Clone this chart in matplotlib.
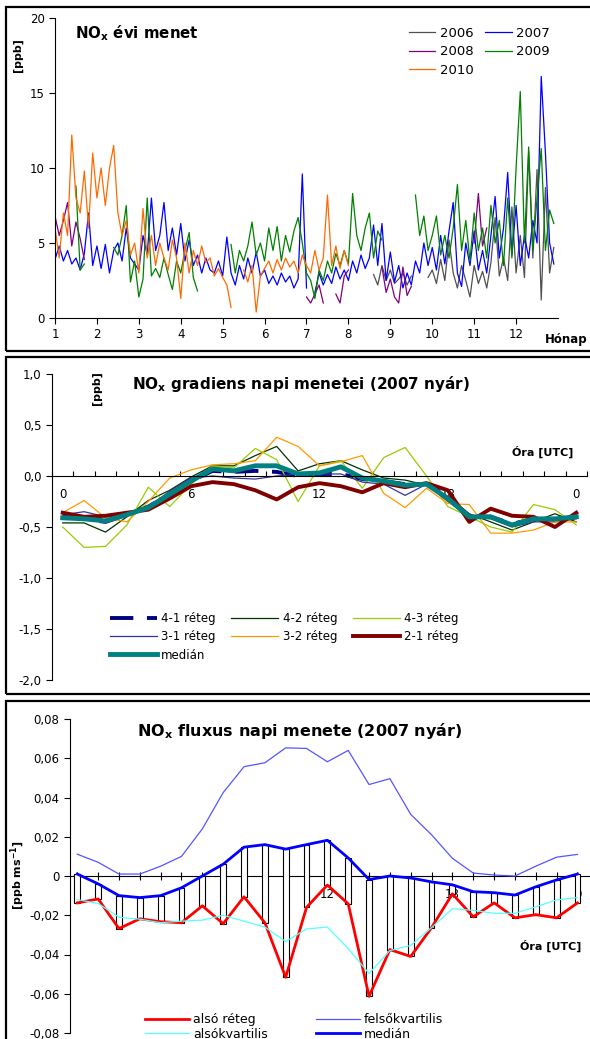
import numpy as np
import matplotlib.pyplot as plt
from matplotlib.patches import Rectangle

plt.rcParams['font.family'] = ['DejaVu Sans']
plt.rcParams['mathtext.default'] = 'regular'

nan = np.nan
W, H = 590, 1039

# ---- panel 1: yearly NOx course, one value every 0.1 month (1.0 .. 12.9)
months = np.round(np.arange(1.0, 13.0, 0.1), 1)

nox_2006 = ([nan] * 76
            + [2.9, 2.2, 3.5, 2.5, 3.2, 2.3, 2.6, 3.0, 2.2, 2.8]
            + [nan] * 3
            + [2.7, 3.2, 2.3, 3.9, 2.5, 5.2, 3.0, 2.0, 3.5, 2.5,
               1.4, 3.5, 2.3, 3.1, 2.0, 3.7, 6.7, 2.8, 4.0, 2.5,
               7.4, 3.0, 5.5, 2.7, 11.1, 4.0, 9.9, 1.2, 8.7, 3.0, 4.7])

nox_2007 = [3.9, 4.8, 3.8, 4.5, 3.6, 4.0, 3.2, 4.3, 7.0, 3.5,
            4.8, 3.3, 4.9, 3.0, 4.5, 5.0, 3.8, 6.0, 4.0, 3.6,
            3.2, 5.5, 4.2, 8.0, 4.5, 5.5, 7.7, 4.5, 6.0, 4.2,
            6.3, 3.8, 5.2, 3.5, 4.2, 3.0, 4.0, 3.2, 3.0, 3.8,
            2.8, 5.4, 3.0, 2.2, 3.5, 2.6, 4.0, 3.0, 4.4, 2.8,
            3.2, 2.3, 2.8, 2.2, 3.0, 2.4, 2.8, 2.0, 2.6, 9.6,
            2.0, nan, 1.7, 3.0, 2.2, 2.9, 2.3, 3.4, 2.6, 3.2,
            2.5, 3.8, 3.0, 4.2, 3.3, 4.0, 6.2, 3.5, 6.3, 2.5,
            4.4, 2.4, 3.5, 2.0, 3.0, 2.2, 3.8, 3.0, 5.0, 3.5,
            4.7, 3.2, 5.5, 3.6, 5.8, 7.7, 3.0, 2.1, 5.0, 3.5,
            5.8, 3.2, 4.5, 3.0, 5.5, 8.1, 4.0, 6.0, 9.7, 4.2,
            7.5, 3.5, 5.5, 4.0, 6.5, 5.0, 16.1, 11.0, 5.0, 3.6]

nox_2008 = ([6.8, 5.5, 6.5, 7.7, 4.8, 6.4, 5.3, 3.9]
            + [nan] * 52
            + [1.4, 1.0, 1.6, 2.2, 1.0, nan, nan, 1.6, 1.0, 2.8, 3.2]
            + [nan] * 7
            + [3.4, 1.7, 2.6, 1.4, 1.0, 3.4, 1.5, 2.1]
            + [nan] * 14
            + [5.0, 8.3, 4.8, 6.0]
            + [nan] * 16)

nox_2009 = ([nan] * 5
            + [8.8, 3.2, 3.6]
            + [nan] * 6
            + [4.7, 4.2, 5.5, 7.5, 2.4, 3.8, 1.4, 2.6, 8.0, 2.8,
               3.3, 2.7, 4.0, 2.9, 1.9, 3.8, 3.0, 4.5, 5.7, 2.7, 1.8]
            + [nan] * 7
            + [4.9, 3.0, 4.5, 3.8, 4.8, 6.4, 4.2, 5.0, 3.8, 6.0,
               4.5, 6.1, 3.8, 5.5, 4.4, 5.8, 6.7, 5.0, 3.0, 2.5,
               1.3, 3.2, 2.5, 3.8, 3.0, 4.3, 3.5, 4.5, 3.6, 8.3,
               5.5, 4.5, 6.0, 7.0, 4.0, 5.8, 5.2]
            + [nan] * 7
            + [8.2, 5.5, 6.8, 4.5, 5.5, 6.8, 4.2, 5.5, 4.0, 6.0,
               8.9, 4.5, 6.5, 3.8, 7.0, 4.5, 6.0, 4.0, 7.5, 5.0,
               6.5, 3.5, 8.0, 4.0, 10.0, 15.1, 5.0, 11.4, 4.5, 8.0,
               11.3, 4.5, 7.2, 6.3])

nox_2010 = ([6.0, 4.0, 7.0, 5.5, 12.2, 8.0, 7.0, 9.8, 6.0, 11.0,
             8.0, 10.0, 7.5, 10.0, 11.5, 7.0, 5.5, 6.5, 4.2, 5.0,
             3.0, 7.3, 4.0, 5.5, 3.5, 5.0, 4.0, 3.2, 5.2, 4.0,
             1.3, 5.0, 3.0, 4.5, 3.5, 4.8, 3.7, 4.0, 2.8, 3.3,
             2.7, 2.2, 0.7]
            + [nan] * 2
            + [3.2, 2.4, 3.5, 0.4, 2.8, 3.3, 3.8, 3.0, 3.9, 3.2,
               4.0, 3.4, 3.8, 3.0, 4.2, 3.5, 3.0, 4.5, 3.2, 4.0,
               8.2, 3.5, 4.8, 3.3, 4.5, 3.5]
            + [nan] * 49)

# ---- panel 2: NOx gradient daily course (hour 0 .. 24)
hours = np.arange(25)
grad_41 = [-0.40, -0.42, -0.45, -0.38, -0.30, -0.18, -0.05, 0.05, 0.04, 0.05, 0.04, 0.00, 0.02,
           0.02, -0.03, -0.05, -0.08, -0.08, -0.20, -0.40, -0.40, -0.47, -0.42, -0.43, -0.40]
grad_42 = [-0.46, -0.46, -0.55, -0.40, -0.24, -0.14, -0.01, 0.10, 0.10, 0.20, 0.29, 0.05, 0.12,
           0.15, 0.06, -0.02, -0.04, -0.09, -0.20, -0.37, -0.45, -0.53, -0.45, -0.37, -0.45]
grad_43 = [-0.50, -0.70, -0.69, -0.48, -0.11, -0.30, -0.08, 0.10, 0.08, 0.27, 0.16, -0.25, 0.10,
           0.15, -0.12, 0.18, 0.28, 0.00, -0.30, -0.40, -0.50, -0.55, -0.28, -0.33, -0.48]
grad_31 = [-0.38, -0.35, -0.40, -0.38, -0.30, -0.15, -0.02, 0.00, -0.02, -0.03, 0.00, 0.02, 0.02,
           0.02, -0.06, -0.08, -0.19, -0.08, -0.25, -0.40, -0.42, -0.50, -0.45, -0.45, -0.42]
grad_32 = [-0.36, -0.24, -0.41, -0.45, -0.25, -0.02, 0.06, 0.11, 0.12, 0.15, 0.38, 0.29, 0.10,
           0.14, 0.20, -0.17, -0.31, -0.12, -0.27, -0.28, -0.56, -0.56, -0.53, -0.45, -0.45]
grad_21 = [-0.36, -0.40, -0.39, -0.36, -0.33, -0.22, -0.10, -0.06, -0.08, -0.14, -0.23, -0.11, -0.07,
           -0.10, -0.16, -0.07, -0.11, -0.07, -0.14, -0.45, -0.32, -0.39, -0.40, -0.50, -0.36]
grad_med = [-0.41, -0.42, -0.44, -0.38, -0.31, -0.18, -0.05, 0.07, 0.05, 0.10, 0.10, 0.02, 0.03,
            0.09, -0.02, -0.05, -0.09, -0.08, -0.22, -0.40, -0.40, -0.48, -0.42, -0.42, -0.40]

# ---- panel 3: NOx flux daily course
flux_upper = [0.0111, 0.0070, 0.0010, 0.0010, 0.0050, 0.0100, 0.0240, 0.0425, 0.0557, 0.0577,
              0.0653, 0.0650, 0.0582, 0.0640, 0.0466, 0.0496, 0.0314, 0.0210, 0.0090, 0.0015,
              0.0005, 0.0000, 0.0050, 0.0096, 0.0110]
flux_median = [0.0010, -0.0040, -0.0100, -0.0110, -0.0100, -0.0060, 0.0000, 0.0060, 0.0147, 0.0160,
               0.0137, 0.0160, 0.0182, 0.0092, -0.0018, 0.0000, -0.0010, -0.0030, -0.0045, -0.0080,
               -0.0085, -0.0097, -0.0055, -0.0020, 0.0010]
flux_lower_layer = [-0.0137, -0.0117, -0.0268, -0.0218, -0.0233, -0.0238, -0.0152, -0.0243, -0.0106,
                    -0.0238, -0.0516, -0.0160, -0.0046, -0.0142, -0.0613, -0.0375, -0.0410, -0.0263,
                    -0.0091, -0.0208, -0.0137, -0.0213, -0.0197, -0.0213, -0.0137]
flux_lower_q = [-0.0120, -0.0140, -0.0210, -0.0220, -0.0238, -0.0230, -0.0225, -0.0200, -0.0230,
                -0.0260, -0.0334, -0.0270, -0.0260, -0.0370, -0.0497, -0.0380, -0.0354, -0.0263,
                -0.0167, -0.0175, -0.0190, -0.0190, -0.0157, -0.0122, -0.0110]


def fx(px):
    return px / W


def fy(py):
    return 1 - py / H


fig = plt.figure(figsize=(W / 100, H / 100), dpi=100)

# panel frames
for top, bot in [(7, 351), (357, 694), (701, 1060)]:
    fig.add_artist(Rectangle((fx(6), fy(bot)), fx(610) - fx(6), (bot - top) / H,
                             transform=fig.transFigure, fill=False, lw=1.6,
                             ec='black', clip_on=False))

# ================= panel 1
ax1 = fig.add_axes([fx(55), fy(318), fx(558) - fx(55), 300 / H])
l06, = ax1.plot(months, nox_2006, color='#505050', lw=0.9, label='2006')
l07, = ax1.plot(months, nox_2007, color='#0000ff', lw=0.9, label='2007')
l08, = ax1.plot(months, nox_2008, color='#800080', lw=0.9, label='2008')
l09, = ax1.plot(months, nox_2009, color='#008000', lw=0.9, label='2009')
l10, = ax1.plot(months, nox_2010, color='#ff6a00', lw=0.9, label='2010')
ax1.set_xlim(1, 13)
ax1.set_ylim(0, 20)
ax1.set_xticks(range(1, 13))
ax1.set_yticks([0, 5, 10, 15, 20])
ax1.spines[['top', 'right']].set_visible(False)
ax1.tick_params(direction='out', length=4, width=0.8, labelsize=8.5)
ax1.legend(handles=[l06, l08, l10, l07, l09], ncol=2, frameon=False, fontsize=9.5,
           loc='upper left', bbox_to_anchor=(fx(402), fy(20)), bbox_transform=fig.transFigure,
           borderpad=0, handlelength=2.0, handletextpad=0.35, columnspacing=0.9,
           labelspacing=0.42)
fig.text(fx(75), fy(33), r'NO$_{\mathbf{x}}$ évi menet', fontsize=10.8, fontweight='bold',
         ha='left', va='center')
fig.text(fx(18), fy(55), '[ppb]', fontsize=8, fontweight='bold', rotation=90,
         ha='center', va='center')
fig.text(fx(566), fy(340), 'Hónap', fontsize=8.5, fontweight='bold', ha='center', va='center')

# ================= panel 2
ax2 = fig.add_axes([fx(52), fy(680), fx(587) - fx(52), (680 - 374) / H])
h41, = ax2.plot(hours, grad_41, color='#000080', lw=2.8, dashes=(6, 3.5), label='4-1 réteg')
h42, = ax2.plot(hours, grad_42, color='#003300', lw=0.9, label='4-2 réteg')
h43, = ax2.plot(hours, grad_43, color='#99cc00', lw=0.9, label='4-3 réteg')
h31, = ax2.plot(hours, grad_31, color='#333399', lw=0.9, label='3-1 réteg')
h32, = ax2.plot(hours, grad_32, color='#ff9900', lw=0.9, label='3-2 réteg')
h21, = ax2.plot(hours, grad_21, color='#800000', lw=2.8, label='2-1 réteg')
hmd, = ax2.plot(hours, grad_med, color='#008080', lw=3.5, label='medián')
ax2.set_xlim(-0.5, 24.5)
ax2.set_ylim(-2, 1)
ax2.spines['bottom'].set_position(('data', 0))
ax2.spines[['top', 'right']].set_visible(False)
ax2.set_xticks([0, 6, 12, 18, 24])
ax2.set_xticklabels(['0', '6', '12', '18', '0'])
ax2.set_xticks(np.arange(-0.5, 25, 1), minor=True)
ax2.tick_params(axis='x', which='major', length=0, pad=9, labelsize=8.5)
ax2.tick_params(axis='x', which='minor', direction='in', length=3.5, width=0.8)
ax2.set_yticks([1, 0.5, 0, -0.5, -1, -1.5, -2])
ax2.set_yticklabels(['1,0', '0,5', '0,0', '-0,5', '-1,0', '-1,5', '-2,0'])
ax2.tick_params(axis='y', direction='out', length=4, width=0.8, labelsize=8.5)
ax2.legend(handles=[h41, h31, hmd, h42, h32, h43, h21], ncol=3, frameon=False, fontsize=8.5,
           loc='upper left', bbox_to_anchor=(fx(104), fy(606)), bbox_transform=fig.transFigure,
           borderpad=0, handlelength=4.0, handletextpad=0.35, columnspacing=1.3,
           labelspacing=0.45)
fig.text(fx(301), fy(384), r'NO$_{\mathbf{x}}$ gradiens napi menetei (2007 nyár)', fontsize=11,
         fontweight='bold', ha='center', va='center')
fig.text(fx(97), fy(388), '[ppb]', fontsize=8, fontweight='bold', rotation=90,
         ha='center', va='center')
fig.text(fx(543), fy(452), 'Óra [UTC]', fontsize=8, fontweight='bold', ha='center', va='center')

# ================= panel 3
ax3 = fig.add_axes([fx(70), fy(1033), fx(591) - fx(70), (1033 - 719) / H])
bar_bottom = np.minimum(flux_median, flux_lower_layer)
bar_height = np.abs(np.subtract(flux_median, flux_lower_layer))
ax3.bar(hours, bar_height, bottom=bar_bottom, width=0.28, color='white', edgecolor='black',
        lw=0.8, zorder=3)
f_red, = ax3.plot(hours, flux_lower_layer, color='#ff0000', lw=2.0, zorder=4, label='alsó réteg')
f_cy, = ax3.plot(hours, flux_lower_q, color='#55ffff', lw=0.9, zorder=4, label='alsókvartilis')
f_up, = ax3.plot(hours, flux_upper, color='#5555ff', lw=0.9, zorder=4, label='felsőkvartilis')
f_md, = ax3.plot(hours, flux_median, color='#0000ff', lw=2.0, zorder=4, label='medián')
ax3.set_xlim(-0.35, 24.65)
ax3.set_ylim(-0.08, 0.08)
ax3.spines['bottom'].set_position(('data', 0))
ax3.spines[['top', 'right']].set_visible(False)
ax3.set_xticks(range(25))
ax3.set_xticklabels([{0: '0', 6: '6', 12: '12', 18: '18', 24: '0'}.get(h, '') for h in range(25)])
ax3.tick_params(axis='x', direction='inout', length=6, width=0.8, pad=5.5, labelsize=8.5)
ax3.set_yticks([0.08, 0.06, 0.04, 0.02, 0, -0.02, -0.04, -0.06, -0.08])
ax3.set_yticklabels(['0,08', '0,06', '0,04', '0,02', '0', '-0,02', '-0,04', '-0,06', '-0,08'])
ax3.tick_params(axis='y', direction='out', length=4, width=0.8, labelsize=8.5)
ax3.legend(handles=[f_red, f_cy, f_up, f_md], ncol=2, frameon=False, fontsize=9,
           loc='upper left', bbox_to_anchor=(fx(139), fy(1007)), bbox_transform=fig.transFigure,
           borderpad=0, handlelength=3.5, handletextpad=0.3, columnspacing=3.9,
           labelspacing=0.1)
fig.text(fx(300), fy(731), r'NO$_{\mathbf{x}}$ fluxus napi menete (2007 nyár)', fontsize=11.5,
         fontweight='bold', ha='center', va='center')
fig.text(fx(18), fy(875), r'[ppb ms$^{\mathbf{-1}}$]', fontsize=8, fontweight='bold', rotation=90,
         ha='center', va='center')
fig.text(fx(551), fy(946), 'Óra [UTC]', fontsize=8, fontweight='bold', ha='center', va='center')

fig.savefig('out.png', dpi=100)
